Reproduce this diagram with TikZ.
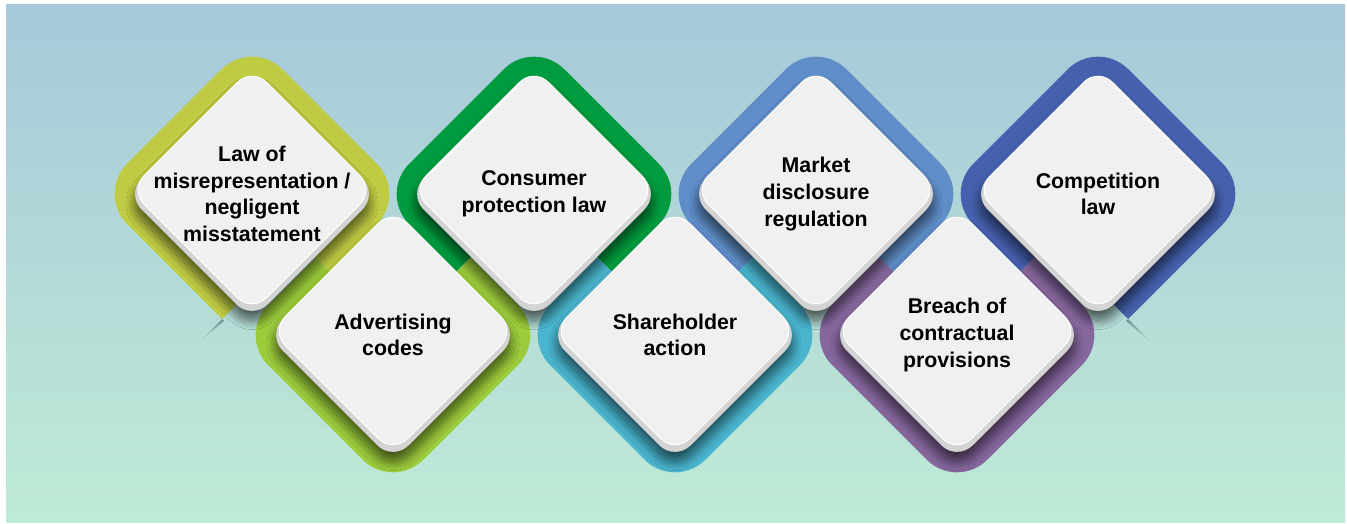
\documentclass[tikz,border=0pt]{standalone}
\usepackage{fontspec}
\setmainfont{Liberation Sans}
\usetikzlibrary{positioning, calc, shadows.blur}

\definecolor{bgtop}{RGB}{167, 200, 218}
\definecolor{bgbottom}{RGB}{190, 235, 214}
\colorlet{bgmid}{bgbottom!63!bgtop}
\definecolor{lawgreen}{RGB}{191, 203, 67}
\definecolor{adgreen}{RGB}{156, 203, 59}
\definecolor{consumergreen}{RGB}{0, 155, 62}
\definecolor{sharecyan}{RGB}{73, 180, 205}
\definecolor{marketblue}{RGB}{95, 141, 200}
\definecolor{breachpurple}{RGB}{133, 103, 158}
\definecolor{compblue}{RGB}{69, 96, 172}
\definecolor{tileface}{RGB}{240, 240, 240}
\definecolor{tileedge}{RGB}{212, 212, 212}
\definecolor{streak}{RGB}{38, 66, 72}

% rounded diamond, half diagonal #1, around the origin
\newcommand{\diam}[1]{(-#1/2,-#1/2) -- (0,-#1) -- (#1,0) -- (0,#1) -- (-#1,0) -- cycle}

\begin{document}
\begin{tikzpicture}[x=0.75pt, y=-0.75pt,
  ring/.style={rounded corners=32pt},
  tilebase/.style={fill=tileedge, rounded corners=16.5pt,
    blur shadow={shadow xshift=0pt, shadow yshift=-7pt, shadow blur radius=7pt,
      shadow blur steps=16, shadow opacity=60}},
  tiletop/.style={fill=tileface, draw=white, line width=0.8pt, rounded corners=15pt},
  lbl/.style={align=center, font=\fontsize{16}{20}\selectfont\bfseries, text=black}]

  \useasboundingbox (0,0) rectangle (1347,524);
  \fill[white] (0,0) rectangle (1347,524);
  \shade[top color=bgtop, bottom color=bgbottom] (6,5) rectangle (1345,522);

  \coordinate (law) at (252,194);
  \coordinate (consumer) at (534,194);
  \coordinate (market) at (816,194);
  \coordinate (competition) at (1098,194);
  \coordinate (advertising) at (393,335);
  \coordinate (shareholder) at (675,335);
  \coordinate (breach) at (957,335);

  % ribbon: upper row, open at the bottom
  \begin{scope}
    \clip (law) ++(47.5,47.5) -- ++(200,200) -- ++(0,-500) -- ++(-500,0) -- ++(0,600) -- cycle;
    \fill[lawgreen, ring, shift={(law)}] \diam{155};
  \end{scope}
  \begin{scope}
    \clip (consumer) -- ++(200,200) -- ++(0,-400) -- ++(-400,0) -- ++(0,400) -- cycle;
    \fill[consumergreen, ring, shift={(consumer)}] \diam{155};
  \end{scope}
  \begin{scope}
    \clip (market) -- ++(200,200) -- ++(0,-400) -- ++(-400,0) -- ++(0,400) -- cycle;
    \fill[marketblue, ring, shift={(market)}] \diam{155};
  \end{scope}
  \begin{scope}
    \clip (competition) ++(-47.5,47.5) -- ++(-200,200) -- ++(0,-500) -- ++(500,0) -- ++(0,600) -- cycle;
    \fill[compblue, ring, shift={(competition)}] \diam{155};
  \end{scope}

  % ribbon: lower row, open at the top
  \begin{scope}
    \clip (advertising) -- ++(-200,-200) -- ++(0,400) -- ++(400,0) -- ++(0,-400) -- cycle;
    \fill[adgreen, ring, shift={(advertising)}] \diam{155};
  \end{scope}
  \begin{scope}
    \clip (shareholder) -- ++(-200,-200) -- ++(0,400) -- ++(400,0) -- ++(0,-400) -- cycle;
    \fill[sharecyan, ring, shift={(shareholder)}] \diam{155};
  \end{scope}
  \begin{scope}
    \clip (breach) -- ++(-200,-200) -- ++(0,400) -- ++(400,0) -- ++(0,-400) -- cycle;
    \fill[breachpurple, ring, shift={(breach)}] \diam{155};
  \end{scope}

  % cut ends of the ribbon
  \shade[left color=bgmid, right color=streak] (law) ++(-30,125) -- ++(-24,24) -- ++(26,-22) -- cycle;
  \shade[left color=streak, right color=bgmid] (competition) ++(30,125) -- ++(24,24) -- ++(-26,-22) -- cycle;

  % tiles
  \path[tilebase, shift={(law)}] \diam{126};
  \path[tiletop, shift={(law)}, yshift=3pt] \diam{122};
  \path[tilebase, shift={(consumer)}] \diam{126};
  \path[tiletop, shift={(consumer)}, yshift=3pt] \diam{122};
  \path[tilebase, shift={(market)}] \diam{126};
  \path[tiletop, shift={(market)}, yshift=3pt] \diam{122};
  \path[tilebase, shift={(competition)}] \diam{126};
  \path[tiletop, shift={(competition)}, yshift=3pt] \diam{122};
  \path[tilebase, shift={(advertising)}] \diam{126};
  \path[tiletop, shift={(advertising)}, yshift=3pt] \diam{122};
  \path[tilebase, shift={(shareholder)}] \diam{126};
  \path[tiletop, shift={(shareholder)}, yshift=3pt] \diam{122};
  \path[tilebase, shift={(breach)}] \diam{126};
  \path[tiletop, shift={(breach)}, yshift=3pt] \diam{122};

  \node[lbl] (lawtext) at (law) {Law of\\misrepresentation /\\negligent\\misstatement};
  \node[lbl] (consumertext) at (consumer) {Consumer\\protection law};
  \node[lbl] (markettext) at (market) {Market\\disclosure\\regulation};
  \node[lbl] (competitiontext) at (competition) {Competition\\law};
  \node[lbl] (advertisingtext) at (advertising) {Advertising\\codes};
  \node[lbl] (shareholdertext) at (shareholder) {Shareholder\\action};
  \node[lbl] (breachtext) at (breach) {Breach of\\contractual\\provisions};
\end{tikzpicture}
\end{document}
